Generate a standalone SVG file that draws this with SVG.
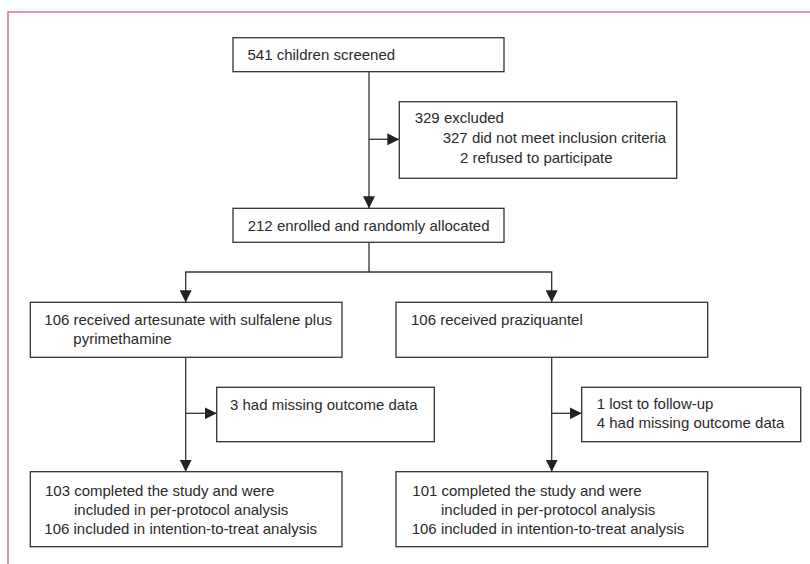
<svg xmlns="http://www.w3.org/2000/svg" width="810" height="564" viewBox="0 0 810 564">
<defs>
<style>
.box{fill:#fff;stroke:#333;stroke-width:1.3}
.ln{fill:none;stroke:#333;stroke-width:1.3}
text{font-family:"Liberation Sans",Arial,sans-serif;font-size:15px;fill:#2a2a2a}
</style>
<marker id="ah" markerUnits="userSpaceOnUse" markerWidth="12" markerHeight="12" refX="12" refY="6" orient="auto" viewBox="0 0 12 12">
<path d="M0,0 L12,6 L0,12 z" fill="#222"/>
</marker>
</defs>
<rect width="810" height="564" fill="#fff"/>
<path d="M8,564 V12 H810" fill="none" stroke="#d5739a" stroke-width="1.6"/>
<g id="connectors">
<line class="ln" x1="369" y1="71.7" x2="369" y2="208.3" marker-end="url(#ah)"/>
<line class="ln" x1="369" y1="139.3" x2="399.3" y2="139.3" marker-end="url(#ah)"/>
<polyline class="ln" points="369,242.3 369,272 185.7,272 185.7,302.3" marker-end="url(#ah)"/>
<polyline class="ln" points="369,272 551.7,272 551.7,302.3" marker-end="url(#ah)"/>
<line class="ln" x1="185.7" y1="357.3" x2="185.7" y2="471.7" marker-end="url(#ah)"/>
<line class="ln" x1="185.7" y1="413.3" x2="216.7" y2="413.3" marker-end="url(#ah)"/>
<line class="ln" x1="551.7" y1="357.3" x2="551.7" y2="471.7" marker-end="url(#ah)"/>
<line class="ln" x1="551.7" y1="413.3" x2="581.7" y2="413.3" marker-end="url(#ah)"/>
</g>
<g id="screened">
<rect class="box" x="233" y="37.7" width="271" height="34"/>
<text x="247.5" y="60">541 children screened</text>
</g>
<g id="excluded">
<rect class="box" x="399.3" y="101.7" width="277.4" height="76.6"/>
<text x="414.7" y="123.3">329 excluded</text>
<text x="442.7" y="142.8">327 did not meet inclusion criteria</text>
<text x="460" y="162.5">2 refused to participate</text>
</g>
<g id="enrolled">
<rect class="box" x="233" y="208.3" width="271" height="34"/>
<text x="247.7" y="230.5">212 enrolled and randomly allocated</text>
</g>
<g id="artesunate">
<rect class="box" x="30.3" y="302.3" width="311.7" height="55"/>
<text x="44.3" y="325">106 received artesunate with sulfalene plus</text>
<text x="73.3" y="344">pyrimethamine</text>
</g>
<g id="praziquantel">
<rect class="box" x="396" y="302.3" width="311.7" height="55"/>
<text x="411" y="325">106 received praziquantel</text>
</g>
<g id="missing-left">
<rect class="box" x="216.7" y="387.3" width="217.6" height="54.4"/>
<text x="230" y="410">3 had missing outcome data</text>
</g>
<g id="missing-right">
<rect class="box" x="581.7" y="387.3" width="219" height="54.4"/>
<text x="596.7" y="408.5">1 lost to follow-up</text>
<text x="596.7" y="428.3">4 had missing outcome data</text>
</g>
<g id="completed-left">
<rect class="box" x="30.3" y="471.7" width="311.7" height="75"/>
<text x="45" y="496">103 completed the study and were</text>
<text x="74" y="514.7">included in per-protocol analysis</text>
<text x="44.3" y="533.5">106 included in intention-to-treat analysis</text>
</g>
<g id="completed-right">
<rect class="box" x="396" y="471.7" width="311.7" height="75"/>
<text x="412.3" y="496">101 completed the study and were</text>
<text x="441" y="514.7">included in per-protocol analysis</text>
<text x="411.7" y="533.5">106 included in intention-to-treat analysis</text>
</g>
</svg>
